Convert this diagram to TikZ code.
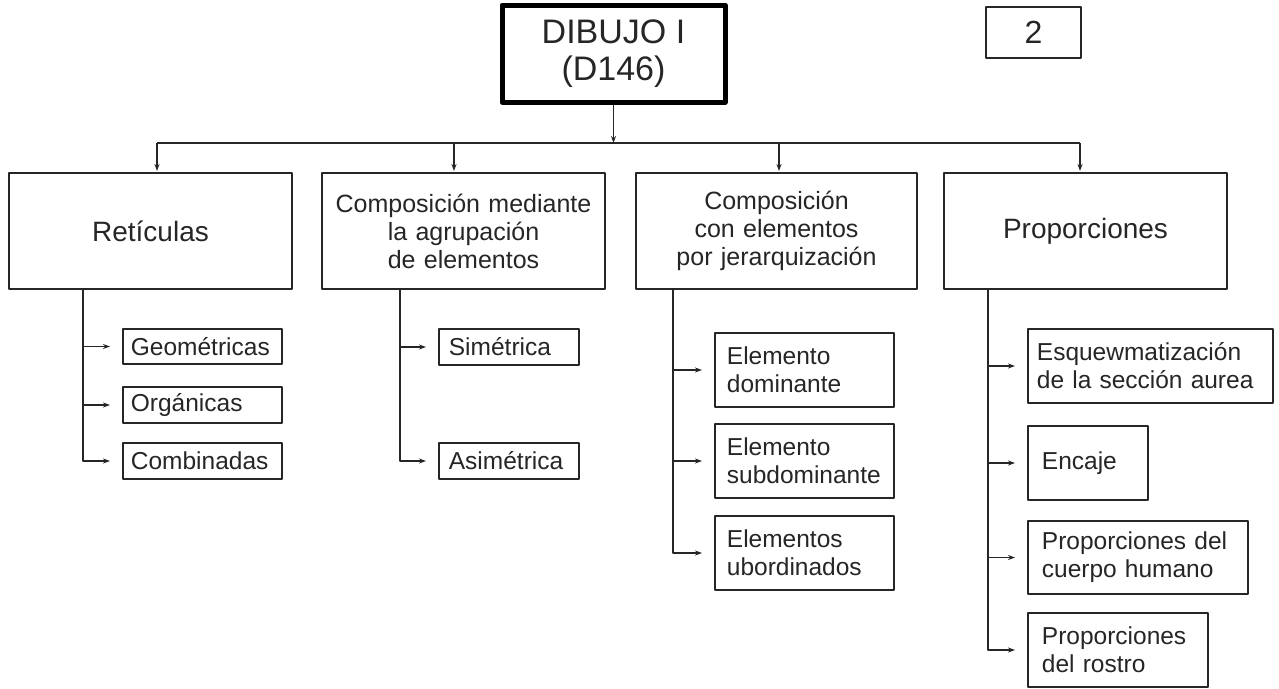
\documentclass[tikz,border=0pt]{standalone}
\usepackage{fontspec}
\setmainfont{Liberation Sans}
\usetikzlibrary{arrows.meta}
\tikzset{
	conn/.style={draw=gray!30!black, line width=1.5pt},
	flecha/.style={conn, ->, shorten >=12pt},
	cajon/.style={draw=gray!30!black, line width=2pt, minimum height=116pt, text width=269pt, inner xsep=6pt, align=center, text=black!85, font=\fontsize{25}{28}\selectfont},
	grande/.style={font=\fontsize{28}{31}\selectfont},
	hoja/.style={draw=gray!30!black, line width=1.8pt, anchor=west, align=left, inner ysep=2pt, text=black!85, font=\fontsize{24.5}{28}\selectfont}
}
\begin{document}
\begin{tikzpicture}[x=1pt, y=-1pt, line join=round, >={Stealth[length=7pt,width=5pt]}]
	\fill[white] (0,0) rectangle (1279,688);
	\useasboundingbox (0,0) rectangle (1279,688);
	% cabecera
	\node[draw=black, line width=5pt, minimum width=223pt, minimum height=97pt, align=center, text=black!85, font=\fontsize{34}{37}\selectfont] (top) at (613.5,53.5) {DIBUJO I\\(D146)};
	\node[draw=gray!30!black, line width=2pt, minimum width=95pt, minimum height=51pt, text=black!85, font=\fontsize{32}{34}\selectfont] (num) at (1033.5,32.5) {2};
	% segundo nivel
	\node[cajon, grande, text width=271pt] (ret) at (150.5,231) {Retículas};
	\node[cajon, text width=271pt] (med) at (463.5,231) {Composición mediante\\la agrupación\\de elementos};
	\node[cajon] (con) at (776.5,231) {Composición\\con elementos\\por jerarquización};
	\node[cajon, grande, text width=271pt] (pro) at (1085.5,231) {Proporciones};
	% barra
	\coordinate (b-ret) at (157,143);
	\coordinate (b-med) at (454,143);
	\coordinate (b-con) at (779,143);
	\coordinate (b-pro) at (1080,143);
	\draw[conn, ->] (top.south) -- (top.south |- b-ret);
	\draw[conn] (b-ret) -- (b-pro);
	\foreach \n in {ret,med,con,pro}{
		\draw[conn, ->, shorten >=1pt] (b-\n) -- (b-\n |- \n.north);}
	% hojas
	\node[hoja, text width=143pt, inner xsep=8pt, minimum height=35pt] (geo) at (122,346.5) {Geométricas};
	\node[hoja, text width=143pt, inner xsep=8pt, minimum height=36pt] (org) at (122,405) {Orgánicas};
	\node[hoja, text width=143pt, inner xsep=8pt, minimum height=36pt] (com) at (122,461) {Combinadas};
	\node[hoja, text width=120pt, inner xsep=10pt, minimum height=36pt] (sim) at (438,347) {Simétrica};
	\node[hoja, text width=120pt, inner xsep=10pt, minimum height=36pt] (asi) at (438,461) {Asimétrica};
	\node[hoja, text width=155pt, inner xsep=12pt, minimum height=74pt] (edo) at (714,370) {Elemento\\dominante};
	\node[hoja, text width=155pt, inner xsep=12pt, minimum height=74pt] (esu) at (714,461) {Elemento\\subdominante};
	\node[hoja, text width=155pt, inner xsep=12pt, minimum height=74pt] (eub) at (714,553) {Elementos\\ubordinados};
	\node[hoja, text width=227pt, inner xsep=9pt, minimum height=74pt] (esq) at (1027,366) {Esquewmatización\\de la sección aurea};
	\node[hoja, text width=92pt, inner xsep=14pt, minimum height=74pt] (enc) at (1027,463) {Encaje};
	\node[hoja, text width=192pt, inner xsep=14pt, minimum height=73pt] (cue) at (1027,557.5) {Proporciones del\\cuerpo humano};
	\node[hoja, text width=152pt, inner xsep=14pt, minimum height=74pt] (ros) at (1027,650) {Proporciones\\del rostro};
	% troncos
	\coordinate (t-ret) at ([xshift=75pt]ret.south west);
	\coordinate (t-med) at ([xshift=79pt]med.south west);
	\coordinate (t-con) at ([xshift=38pt]con.south west);
	\coordinate (t-pro) at ([xshift=45pt]pro.south west);
	\foreach \n in {geo,org}{
		\draw[flecha] (t-ret |- \n.west) -- (\n.west);}
	\draw[flecha] (t-ret) |- (com.west);
	\draw[flecha] (t-med |- sim.west) -- (sim.west);
	\draw[flecha] (t-med) |- (asi.west);
	\foreach \n in {edo,esu}{
		\draw[flecha] (t-con |- \n.west) -- (\n.west);}
	\draw[flecha] (t-con) |- (eub.west);
	\foreach \n in {esq,enc,cue}{
		\draw[flecha] (t-pro |- \n.west) -- (\n.west);}
	\draw[flecha] (t-pro) |- (ros.west);
\end{tikzpicture}
\end{document}
